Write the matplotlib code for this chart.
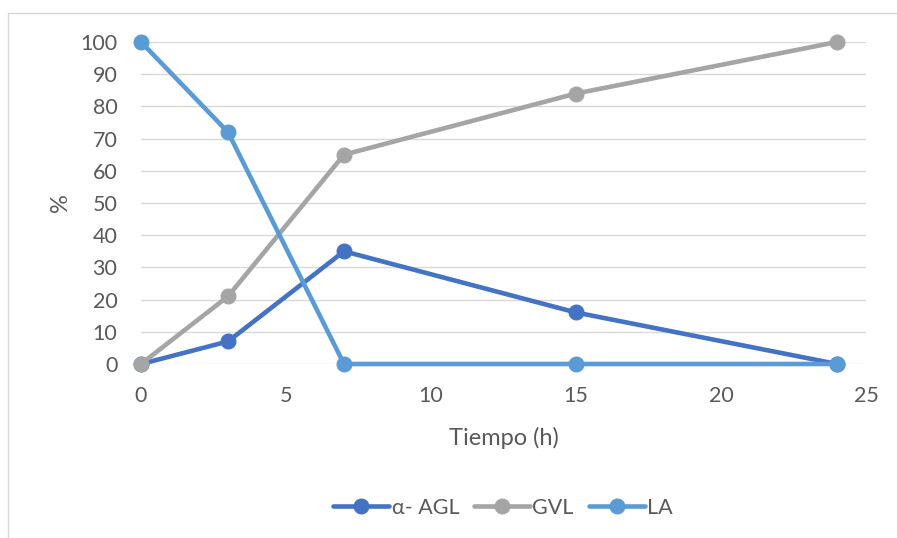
import matplotlib
matplotlib.use("Agg")
import matplotlib.pyplot as plt
from matplotlib.patches import Rectangle

time_h = [0, 3, 7, 15, 24]
agl = [0, 7, 35, 16, 0]
gvl = [0, 21, 65, 84, 100]
la = [100, 72, 0, 0, 0]

series_names = ["α- AGL", "GVL", "LA"]
colors = ["#4472C4", "#A5A5A5", "#5B9BD5"]

plt.rcParams['font.family'] = ['Lato', 'DejaVu Sans']

W, H = 897, 538
fig = plt.figure(figsize=(W / 100, H / 100), dpi=100)

# chart border (left and top visible)
fig.patches.append(Rectangle((8 / W, -0.1), 1.2, (1 - 13 / H) + 0.1, transform=fig.transFigure,
                             fill=False, edgecolor="#D9D9D9", linewidth=1.0))

ax = fig.add_axes([141 / W, 1 - 364 / H, (866 - 141) / W, (364 - 42) / H])
ax.set_xlim(0, 25)
ax.set_ylim(0, 100)
ax.set_xticks(range(0, 26, 5))
ax.set_yticks(range(0, 101, 10))
ax.grid(axis='y', color="#D9D9D9", linewidth=1.0)
ax.set_axisbelow(True)
for s in ax.spines.values():
    s.set_visible(False)
ax.tick_params(length=0, labelsize=15.5, labelcolor="#595959")
ax.tick_params(axis='y', pad=17)
ax.tick_params(axis='x', pad=16)

for data, name, c in zip([agl, gvl, la], series_names, colors):
    ax.plot(time_h, data, color=c, linewidth=3.3, marker='o', markersize=10.5,
            label=name, clip_on=False, solid_capstyle='round')

ax.set_xlabel("Tiempo (h)", fontsize=17, color="#595959", labelpad=15)
ax.set_ylabel("%", fontsize=17, color="#595959", labelpad=7)

leg = ax.legend(loc='center', bbox_to_anchor=(503 / W, 1 - 508 / H), bbox_transform=fig.transFigure,
                ncol=3, frameon=False, fontsize=15.5, handlelength=2.6, handletextpad=0.1,
                columnspacing=0.7, labelcolor="#595959")

fig.savefig("out.png", dpi=100, facecolor="white")
